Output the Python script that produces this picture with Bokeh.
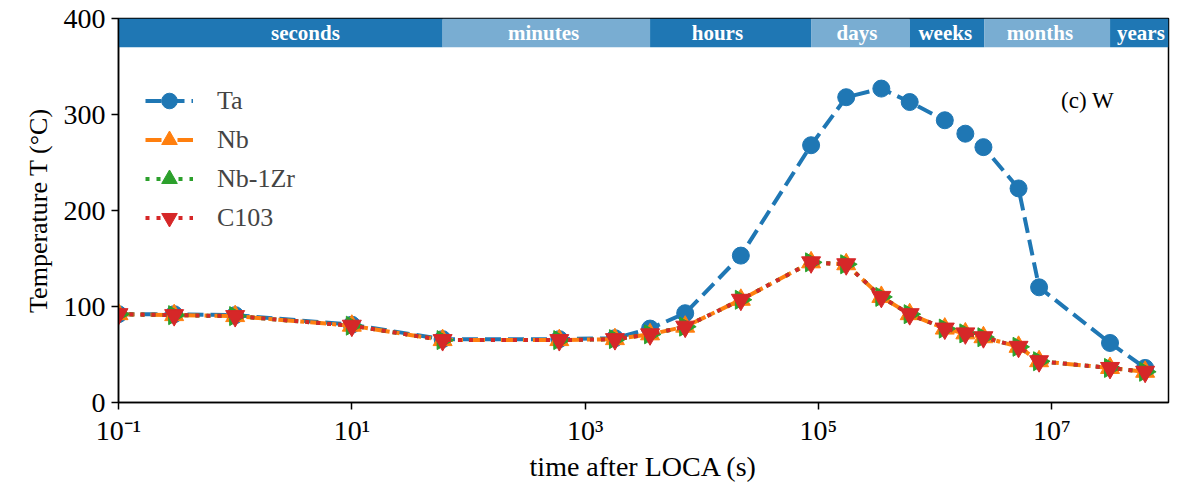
import math
from bokeh.plotting import figure
from bokeh.models import (Range1d, FixedTicker, CustomJSTickFormatter, ColumnDataSource,
                          Legend, LegendItem, LabelSet)
from bokeh.core.properties import value
from bokeh.embed import file_html
from bokeh.resources import INLINE

# ---------------- data ----------------
time_s = [0.1, 0.3, 1, 10, 60, 600, 1800, 3600, 7200, 21600, 86400, 172800, 345600,
          604800, 1209600, 1814400, 2592000, 5184000, 7776000, 31536000, 63072000]
T_Ta = [92, 92, 91, 81, 66, 66, 67, 77, 93, 153, 268, 318, 327, 313, 294, 280, 266, 223, 120, 62, 36]
T_Nb = [92, 91, 90, 80, 65, 65, 66, 71, 79, 107, 146, 144, 110, 92, 77, 72, 68, 58, 43, 36, 32]
T_Nb1Zr = [92, 91, 90, 80, 65, 65, 66, 71, 79, 107, 146, 144, 110, 92, 77, 72, 68, 58, 43, 36, 32]
T_C103 = [92, 91, 90, 80, 65, 65, 66, 71, 79, 107, 146, 144, 110, 92, 77, 72, 68, 58, 43, 36, 32]

band_labels = ["seconds", "minutes", "hours", "days", "weeks", "months", "years"]
band_start = [0.1, 60, 3600, 86400, 604800, 2629800, 31557600]
band_end = [60, 3600, 86400, 604800, 2629800, 31557600, 1e8]
band_label_x = [4, 440, 13600, 214000, 1.22e6, 7.9e6, 5.8e7]

x_ticks = [0.1, 10, 1e3, 1e5, 1e7]
y_ticks = [0, 100, 200, 300, 400]

# ---------------- styling ----------------
FONT = "Liberation Serif"
DARK = "#1f77b4"
LIGHT = "#79add2"
band_colors = [DARK if i % 2 == 0 else LIGHT for i in range(len(band_labels))]

p = figure(width=1184, height=486, x_axis_type="log", output_backend="svg",
           toolbar_location=None, x_range=Range1d(0.1, 1e8), y_range=Range1d(0, 400),
           min_border_left=118, min_border_right=16, min_border_top=18, min_border_bottom=84)
p.grid.visible = False
p.outline_line_color = "black"
p.outline_line_width = 1.5
p.background_fill_color = "white"
p.border_fill_color = "white"

# band
band_src = ColumnDataSource(dict(left=band_start, right=band_end,
                                 bottom=[370] * len(band_start), top=[400] * len(band_start),
                                 color=band_colors, lx=band_label_x, ly=[385] * len(band_start),
                                 text=band_labels))
p.quad(left="left", right="right", bottom="bottom", top="top", fill_color="color",
       line_color=None, source=band_src)
p.add_layout(LabelSet(x="lx", y="ly", text="text", source=band_src, text_color="white",
                      text_font=value(FONT), text_font_style="bold", text_font_size="21px",
                      text_align="center", text_baseline="middle"))

LW = 4
r_ta_l = p.line(time_s, T_Ta, line_color="#1f77b4", line_width=LW, line_dash="16 7")
r_ta_m = p.scatter(time_s, T_Ta, marker="circle", size=17, fill_color="#1f77b4", line_color="#1f77b4")
r_nb_l = p.line(time_s, T_Nb, line_color="#ff7f0e", line_width=LW, line_dash="16 6 4 6")
r_nb_m = p.scatter(time_s, T_Nb, marker="triangle", size=19, fill_color="#ff7f0e", line_color="#ff7f0e")
r_zr_l = p.line(time_s, T_Nb1Zr, line_color="#2ca02c", line_width=LW, line_dash="4 7")
r_zr_m = p.scatter(time_s, T_Nb1Zr, marker="triangle", angle=-math.pi / 2, size=19,
                   fill_color="#2ca02c", line_color="#2ca02c")
r_c_l = p.line(time_s, T_C103, line_color="#d62728", line_width=LW, line_dash="4 7")
r_c_m = p.scatter(time_s, T_C103, marker="inverted_triangle", size=19, fill_color="#d62728", line_color="#d62728")

legend = Legend(items=[
    LegendItem(label="Ta", renderers=[r_ta_l, r_ta_m]),
    LegendItem(label="Nb", renderers=[r_nb_l, r_nb_m]),
    LegendItem(label="Nb-1Zr", renderers=[r_zr_l, r_zr_m]),
    LegendItem(label="C103", renderers=[r_c_l, r_c_m]),
], location=(27, 165))
legend.border_line_color = None
legend.background_fill_alpha = 0
legend.label_text_font = FONT
legend.label_text_font_size = "26px"
legend.glyph_width = 48
legend.glyph_height = 39
legend.label_height = 20
legend.spacing = 0
legend.padding = 10
legend.margin = 0
legend.label_standoff = 24
p.add_layout(legend)

p.text(x=[1.2e7], y=[315], text=["(c) W"], text_font=value(FONT), text_font_size="23px",
       text_baseline="middle", text_align="left", text_color="black")

# axes
for ax in (p.xaxis[0], p.yaxis[0]):
    ax.axis_line_color = "black"
    ax.axis_line_width = 1.5
    ax.major_tick_line_color = "black"
    ax.major_tick_line_width = 1.5
    ax.major_tick_out = 7
    ax.major_tick_in = 0
    ax.minor_tick_line_color = None
    ax.major_label_text_font = FONT
    ax.major_label_text_font_size = "28px"
    ax.major_label_text_color = "black"
    ax.axis_label_text_font = FONT
    ax.axis_label_text_font_style = "normal"
    ax.axis_label_text_color = "black"

p.xaxis.axis_label_text_font_size = "28px"
p.yaxis.axis_label_text_font_size = "26px"
p.xaxis.ticker = FixedTicker(ticks=x_ticks, minor_ticks=[])
p.yaxis.ticker = FixedTicker(ticks=y_ticks, minor_ticks=[])
p.xaxis.formatter = CustomJSTickFormatter(code="""
const sup = {'-':'\u207b','0':'\u2070','1':'\u00b9','2':'\u00b2','3':'\u00b3','4':'\u2074',
             '5':'\u2075','6':'\u2076','7':'\u2077','8':'\u2078','9':'\u2079'};
const e = String(Math.round(Math.log10(tick)));
let s = '';
for (const c of e) { s += sup[c]; }
return '10' + s;
""")
p.xaxis.axis_label = "time after LOCA (s)"
p.yaxis.axis_label = "Temperature T (°C)"
p.xaxis.major_label_standoff = 5
p.yaxis.major_label_standoff = 6
p.xaxis.axis_label_standoff = 2
p.yaxis.axis_label_standoff = 8

open("out.html", "w").write(file_html(p, INLINE))
